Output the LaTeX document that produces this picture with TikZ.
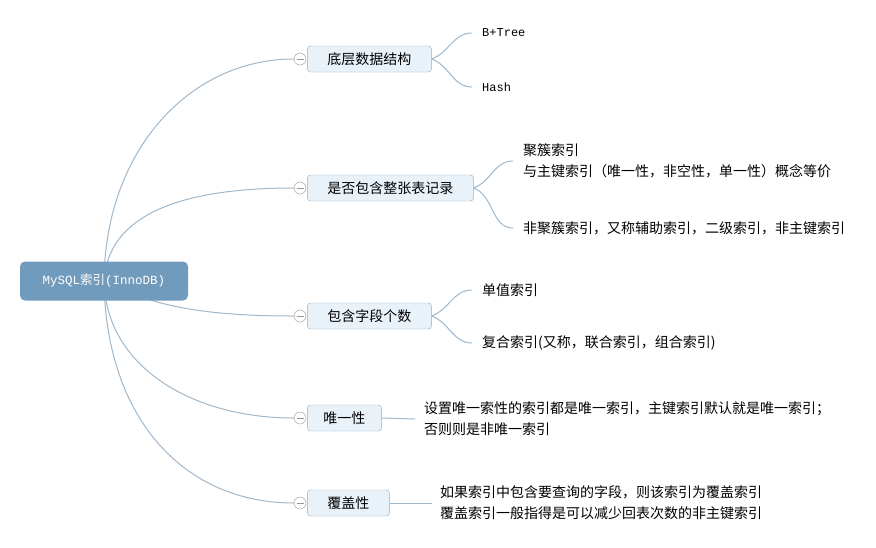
\documentclass[tikz,border=0pt]{standalone}
\usepackage{fontspec}
\setmainfont{Noto Sans CJK SC}
\setmonofont{Liberation Mono}
\usetikzlibrary{positioning,backgrounds}

\definecolor{rootblue}{RGB}{113,155,189}
\definecolor{boxfill}{RGB}{234,242,249}
\definecolor{boxline}{RGB}{146,172,197}
\definecolor{branchcol}{RGB}{160,184,204}
\definecolor{knobcol}{RGB}{150,150,150}

\begin{document}
\begin{tikzpicture}[
    x=1pt, y=-1pt,
    font=\fontsize{14}{21}\selectfont,
    root/.style={rectangle, fill=rootblue, text=white, rounded corners=5pt, minimum width=168pt, minimum height=39pt, font=\fontsize{12.5}{15}\selectfont},
    topic/.style={rectangle, draw=boxline, fill=boxfill, rounded corners=3pt, minimum height=26pt, inner xsep=20pt},
    knob/.style={circle, draw=knobcol, fill=white, minimum size=12pt, inner sep=0pt,
        path picture={\draw[knobcol] ([xshift=-3.5pt]path picture bounding box.center) -- ([xshift=3.5pt]path picture bounding box.center);}},
    leaf/.style={anchor=west, inner xsep=10pt, inner ysep=0pt, align=left},
    branch/.style={draw=branchcol, line width=1pt}
]
\useasboundingbox (0,0) rectangle (876,547);

% Root
\node[root] (root) at (104,281) {\ttfamily MySQL{\rmfamily 索引}(InnoDB)};

% Topics
\node[knob] (c1) at (300,59) {};
\node[topic, right=1pt of c1] (data) {底层数据结构};
\node[knob] (c2) at (300,188) {};
\node[topic, right=1pt of c2] (record) {是否包含整张表记录};
\node[knob] (c3) at (300,316) {};
\node[topic, right=1pt of c3] (fields) {包含字段个数};
\node[knob] (c4) at (300,418) {};
\node[topic, right=1pt of c4, inner xsep=16pt] (unique) {唯一性};
\node[knob] (c5) at (300,503) {};
\node[topic, right=1pt of c5] (cover) {覆盖性};

% Leaves
\node[leaf, font=\fontsize{12}{15}\ttfamily] (btree) at (472,33) {B+Tree};
\node[leaf, font=\fontsize{12}{15}\ttfamily] (hash) at (472,87) {Hash};
\node[leaf] (clustered) at (513,161) {聚簇索引\\与主键索引（唯一性，非空性，单一性）概念等价};
\node[leaf] (secondary) at (513,228) {非聚簇索引，又称辅助索引，二级索引，非主键索引};
\node[leaf] (single) at (472,290) {单值索引};
\node[leaf] (composite) at (472,343) {复合索引(又称，联合索引，组合索引)};
\node[leaf, inner xsep=9pt] (uniquetext) at (415,419) {设置唯一索性的索引都是唯一索引，主键索引默认就是唯一索引；\\否则则是非唯一索引};
\node[leaf, inner xsep=8pt] (covertext) at (432,503) {如果索引中包含要查询的字段，则该索引为覆盖索引\\覆盖索引一般指得是可以减少回表次数的非主键索引};

% Branches
\begin{scope}[on background layer]
\fill[white] (0,0) rectangle (876,547);
\draw[branch] (root.center) .. controls (105,150) and (190,59) .. (c1.west);
\draw[branch] (root.center) .. controls (108,215) and (180,188) .. (c2.west);
\draw[branch] (root.center) .. controls (150,305) and (200,316) .. (c3.west);
\draw[branch] (root.center) .. controls (106,366) and (191,418) .. (c4.west);
\draw[branch] (root.center) .. controls (106,420) and (185,503) .. (c5.west);
\end{scope}

\draw[branch] (data.east) to[out=20, in=180] (btree.west);
\draw[branch] (data.east) to[out=-20, in=180] (hash.west);
\draw[branch] (record.east) to[out=20, in=180] (clustered.west);
\draw[branch] (record.east) to[out=-20, in=180] (secondary.west);
\draw[branch] (fields.east) to[out=20, in=180] (single.west);
\draw[branch] (fields.east) to[out=-20, in=180] (composite.west);
\draw[branch] (unique.east) -- (uniquetext.west);
\draw[branch] (cover.east) -- (covertext.west);

\end{tikzpicture}
\end{document}
